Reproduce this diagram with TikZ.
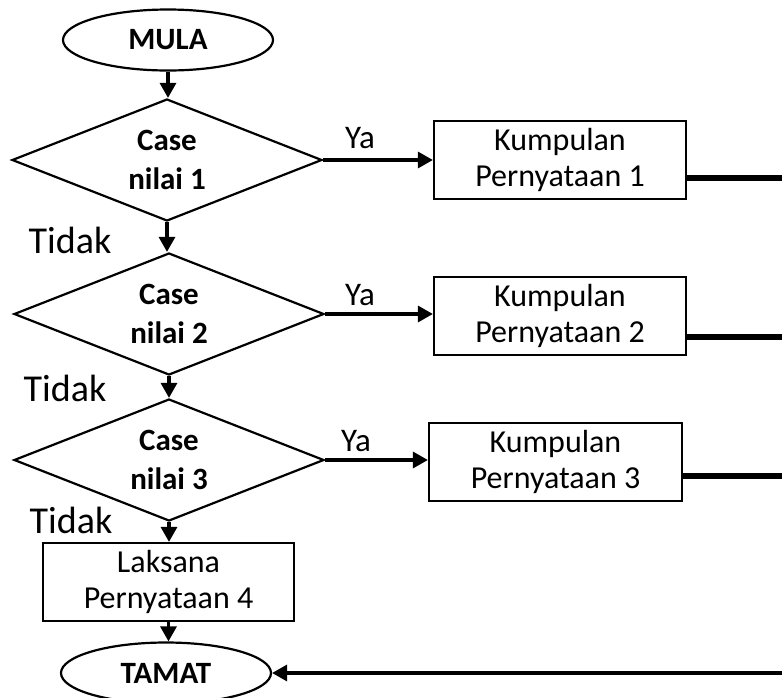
\documentclass[tikz,border=0pt]{standalone}
\usepackage{fontspec}
\setmainfont{Carlito}
\usetikzlibrary{shapes.geometric,arrows.meta}
\begin{document}
\begin{tikzpicture}[x=1pt,y=-1pt,
  every node/.style={inner sep=0pt},
  terminal/.style={ellipse,draw,line width=2.2pt,minimum width=210pt,minimum height=61pt,
    font=\fontsize{31}{34}\selectfont\bfseries},
  decision/.style={diamond,draw,line width=2.2pt,minimum width=310pt,minimum height=122pt,
    aspect=2.5,align=center,font=\fontsize{31}{39}\selectfont\bfseries},
  process/.style={rectangle,draw,line width=2.2pt,minimum width=252pt,minimum height=78pt,
    align=center,font=\fontsize{32}{36}\selectfont},
  nolbl/.style={anchor=base,font=\fontsize{38}{42}\selectfont},
  yeslbl/.style={anchor=base,font=\fontsize{33}{36}\selectfont},
  flow/.style={line width=3.2pt,-{Triangle[length=15pt,width=16pt]}},
  rail/.style={line width=5.6pt}
]
\useasboundingbox (0,0) rectangle (782,697);
\clip (0,0) rectangle (782,697);

% main column
\node[terminal] (mula) at (168,40) {MULA};
\node[decision] (d1) at (167,160) {Case\\nilai 1};
\node[decision] (d2) at (169,314) {Case\\nilai 2};
\node[decision] (d3) at (169,460) {Case\\nilai 3};
\node[process,minimum width=251pt] (p4) at (168.5,582) {Laksana\\Pernyataan 4};
\node[terminal] (tamat) at (166,673) {TAMAT};

% statement blocks
\node[process] (b1) at (560,160) {Kumpulan\\Pernyataan 1};
\node[process] (b2) at (560,316) {Kumpulan\\Pernyataan 2};
\node[process,minimum width=253pt] (b3) at (555.5,462) {Kumpulan\\Pernyataan 3};

% branch labels
\node[nolbl] (t1) at (70,253) {Tidak};
\node[nolbl] (t2) at (65,401) {Tidak};
\node[nolbl] (t3) at (71,533) {Tidak};
\node[yeslbl] (y1) at (360,148) {Ya};
\node[yeslbl] (y2) at (360,305) {Ya};
\node[yeslbl] (y3) at (356,451) {Ya};

% vertical flow
\draw[flow] (mula.south) -- (mula.south |- d1.north);
\draw[flow] (d1.south) -- (d1.south |- d2.north);
\draw[flow] (d2.south) -- (d2.south |- d3.north);
\draw[flow] (d3.south) -- (d3.south |- p4.north);
\draw[flow] (p4.south) -- (p4.south |- tamat.north);

% "Ya" branches
\draw[flow] (d1.east) -- (b1.west);
\draw[flow] (d2.east) -- (d2.east -| b2.west);
\draw[flow] (d3.east) -- (d3.east -| b3.west);

% exits towards the right margin
\coordinate (e1) at (782,178);
\coordinate (e2) at (782,337);
\coordinate (e3) at (782,476);
\coordinate (e4) at (782,673);
\draw[rail] (b1.east |- e1) -- (e1);
\draw[rail] (b2.east |- e2) -- (e2);
\draw[rail] (b3.east |- e3) -- (e3);
\draw[flow] (e4) -- (tamat.east);
\end{tikzpicture}
\end{document}
